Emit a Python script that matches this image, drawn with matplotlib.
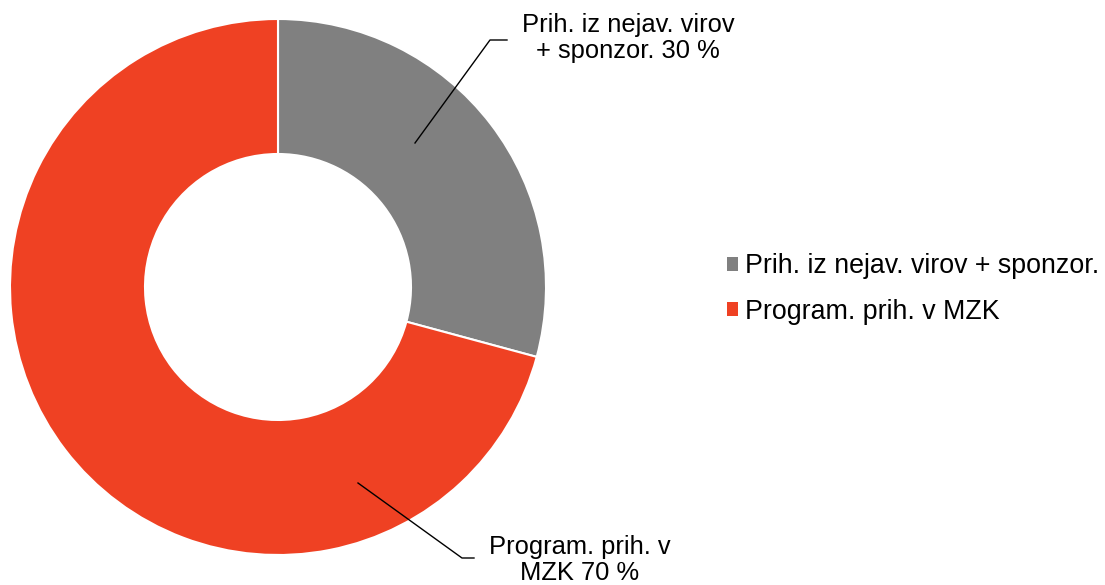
import matplotlib.pyplot as plt
from matplotlib.patches import Patch

labels = ["Prih. iz nejav. virov + sponzor.", "Program. prih. v MZK"]
shares = [29.2, 70.8]  # wedge sizes as drawn; labels show rounded 30 % / 70 %
colors = ["#808080", "#EF4123"]
data_labels = ["Prih. iz nejav. virov\n+ sponzor. 30 %", "Program. prih. v\nMZK 70 %"]

W, H = 1105, 585
plt.rcParams['font.family'] = ['Liberation Sans', 'DejaVu Sans']

fig = plt.figure(figsize=(W / 100, H / 100), dpi=100)
ax = fig.add_axes([0, 0, 1, 1])

cx, cy, r = 278, H - 287, 268
ax.pie(shares, colors=colors, startangle=90, counterclock=False,
       center=(cx, cy), radius=r, frame=True,
       wedgeprops=dict(width=135, edgecolor='white', linewidth=1.5))
ax.set_xlim(0, W)
ax.set_ylim(0, H)
ax.set_aspect('equal')
ax.axis('off')

# leader lines + labels (pixel coords, y from top)
leaders = [
    [(415, 143), (490, 40), (507, 40)],
    [(358, 483), (462, 558), (474, 558)],
]
text_pos = [(628, 38), (580, 560)]
for pts, (tx, ty), txt in zip(leaders, text_pos, data_labels):
    xs = [p[0] for p in pts]
    ys = [H - p[1] for p in pts]
    ax.plot(xs, ys, color='black', lw=1)
    ax.text(tx, H - ty, txt, ha='center', va='center', fontsize=18.4,
            linespacing=1.1)

handles = [Patch(facecolor=c, edgecolor='none') for c in colors]
ax.legend(handles, labels, loc='center left', bbox_to_anchor=(716 / W, 1 - 289 / H),
          frameon=False, fontsize=19.3, handlelength=0.42, handleheight=0.42,
          handletextpad=0.27, labelspacing=0.73, borderaxespad=0)

fig.savefig('out.png', dpi=100)
